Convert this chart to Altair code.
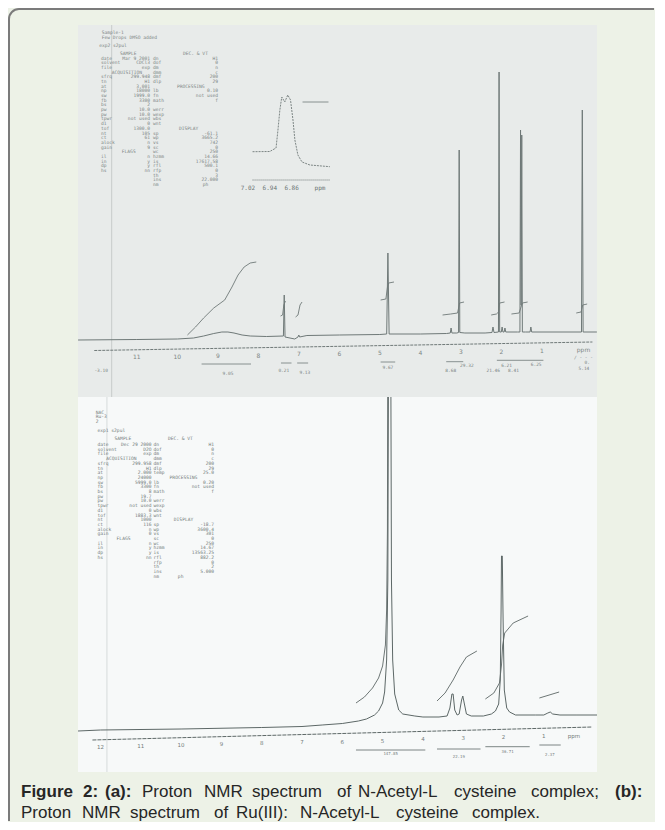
import altair as alt
import pandas as pd

# ---------------- colours / fonts ----------------
BG = "#EDF2E7"
PAPER_A = "#E8EBEA"
PAPER_B = "#F7F9F9"
INK_A = "#6F7978"
INK_B = "#5D6867"
TXT_A = "#7D8685"
TXT_B = "#737C7B"
CAP = "#262626"
FRAME = "#7B7B7B"
MONO = "DejaVu Sans Mono"
SANS = "Liberation Sans"

# ================= (a) N-Acetyl-L cysteine =================
a_ppm = [12.45, 11.0, 10.0, 9.6, 9.35, 9.1, 8.9, 8.75, 8.6, 8.4, 8.2, 7.8,
         7.38, 7.36, 7.34, 7.1, 7.02, 7.0, 6.98, 6.8, 6.0, 5.0,
         4.83, 4.80, 4.77, 4.6, 4.0, 3.35, 3.26, 3.24, 3.22, 3.1,
         3.055, 3.04, 3.025, 2.9, 2.4, 2.23, 2.205, 2.18,
         2.07, 2.055, 2.04, 2.00, 1.98, 1.96, 1.93, 1.91, 1.89,
         1.6, 1.54, 1.525, 1.51, 1.495, 1.48, 1.4, 1.29, 1.27, 1.25,
         0.6, 0.02, 0.0, -0.02, -0.36]
a_int = [5, 5.5, 6, 7, 9, 11.5, 13, 13, 12, 10, 9, 8.5,
         9, 50, 8, 6, 8, 10, 8, 9.5, 10, 10.5,
         11, 92, 11, 11, 11, 11.5, 12, 17, 12, 12,
         12.5, 195, 12.5, 12, 12, 12.5, 18, 12.5,
         13, 273, 13, 13, 18, 13, 13, 17, 13,
         13, 13, 215, 40, 210, 13, 13, 13, 18, 13,
         13, 13, 235, 13, 13]

a_integ_seg = [0] * 10 + [1] * 4 + [2] * 4 + [3] * 5 + [4] * 5 + [5] * 5 + [6] * 5 + [7] * 4
a_integ_ppm = [9.75, 9.55, 9.35, 9.1, 8.83, 8.65, 8.5, 8.35, 8.2, 8.05,
               7.45, 7.40, 7.37, 7.33,
               7.08, 7.02, 6.97, 6.92,
               4.98, 4.85, 4.81, 4.78, 4.65,
               3.45, 3.25, 3.08, 3.03, 2.92,
               2.25, 2.12, 2.07, 2.04, 1.92,
               1.75, 1.56, 1.52, 1.48, 1.35,
               0.15, 0.03, -0.01, -0.12]
a_integ_v = [10, 18, 27, 37, 45, 58, 70, 78, 82, 83,
             29, 30, 40, 44,
             28, 30, 40, 43,
             45, 46, 58, 62, 63,
             30, 31, 32, 42, 43,
             30, 31, 33, 42, 43,
             31, 32, 37, 42, 43,
             32, 33, 40, 41]

a_axis_ppm = [12.05, -0.25]
a_axis_v = [-5.5, 3]
a_tick_ppm = [11, 10, 9, 8, 7, 6, 5, 4, 3, 2, 1, -0.03]
a_tick_lbl = ["11", "10", "9", "8", "7", "6", "5", "4", "3", "2", "1", "ppm"]
a_tick_v = [-12.3, -12.3, -11, -10.7, -9.3, -9, -8.3, -7.7, -7.3, -6.7, -6, -5]

a_bar_from = [9.40, 7.44, 7.04, 4.98, 3.36, 2.11]
a_bar_to = [8.18, 7.18, 6.77, 4.62, 2.94, 0.96]
a_bar_v = [-19, -18, -18, -17, -16.7, -15.3]
a_ilbl = ["-3.10", "9.05", "0.21", "9.13", "9.67", "29.32", "8.68", "6.21", "6.25", "21.46", "8.41", "0.", "5.14", "/ - - -"]
a_ilbl_ppm = [11.88, 8.75, 7.37, 6.85, 4.80, 2.85, 3.25, 1.87, 1.14, 2.20, 1.70, -0.12, -0.04, -0.03]
a_ilbl_v = [-26, -29, -25.7, -28, -22.7, -21, -25.7, -20.7, -20, -25.7, -26, -18.3, -24.3, -13.3]

# inset (expanded 7.02-6.86 ppm)
in_ppm = [7.003, 6.94, 6.917, 6.91, 6.903, 6.896, 6.885, 6.874, 6.864, 6.855, 6.848, 6.837, 6.822, 6.793, 6.72]
in_v = [28.3, 28.5, 32, 50, 70, 83, 78, 85, 80, 60, 40, 25, 18, 15, 13.3]
in_integ_ppm = [6.82, 6.725]
in_integ_v = [78, 78]
in_axis_ppm = [7.003, 6.72]
in_lbl = ["7.02", "6.94", "6.86", "ppm"]
in_lbl_ppm = [7.02, 6.94, 6.86, 6.756]

# acquisition parameter printout (a)
a_head = ["Sample-1", "Few Drops DMSO added", "exp2  s2pul", "SAMPLE", "DEC. & VT",
          "ACQUISITION", "FLAGS", "PROCESSING", "DISPLAY", "ph"]
a_head_ppm = [11.866, 11.866, 11.93, 11.415, 9.859, 11.62, 11.37, 10.01, 9.96, 9.37]
a_head_v = [315, 310.4, 302, 294.5, 294.5, 275.4, 195.7, 261.4, 219.2, 162.9]
a_col1_names = ["date", "solvent", "file", "", "sfrq", "tn", "at", "np", "sw", "fb", "bs", "pw", "pw",
                "tpwr", "d1", "tof", "nt", "ct", "alock", "gain", "", "il", "in", "dp", "hs"]
a_col1_vals = ["Mar  9 2001", "CDCl3", "exp", "", "299.948", "H1", "3.001", "18000", "1999.0", "3300",
               "2", "10.0", "10.0", "not used", "0", "1300.0", "105", "61", "n", "9", "", "n", "y", "y", "nn"]
a_col2_names = ["dn", "dof", "dm", "dmm", "dmf", "dlp", "", "lb", "fn", "math", "", "werr", "wexp", "wbs",
                "wnt", "", "sp", "wp", "vs", "sc", "wc", "hzmm", "is", "rfl", "rfp", "th", "ins", "nm"]
a_col2_vals = ["H1", "0", "n", "c", "200", "29", "", "0.10", "not used", "f", "", "", "", "", "", "",
               "-61.1", "3665.2", "742", "0", "250", "14.66", "17617.58", "500.1", "0", "3", "22.000", ""]

# ================= (b) Ru(III) complex =================
b_ppm = [12.56, 12.0, 10.0, 8.0, 7.0, 6.5, 6.0, 5.6, 5.4, 5.2, 5.1, 5.0, 4.95, 4.90, 4.87, 4.85, 4.80,
         4.78, 4.75, 4.70, 4.60, 4.50, 4.2, 4.0, 3.6, 3.40, 3.33, 3.28, 3.25, 3.21, 3.15, 3.10, 3.04,
         3.01, 2.98, 2.92, 2.8, 2.5, 2.3, 2.2, 2.12, 2.08, 2.06, 2.05, 2.03, 2.01, 1.98, 1.92, 1.85,
         1.7, 1.2, 1.0, 0.90, 0.84, 0.78, 0.6, 0.2, -0.32]
b_int = [-1, 0, 1, 2.5, 3.5, 5, 6.5, 9, 11, 15, 19, 27, 38, 70, 150, 420, 420,
         150, 70, 36, 20, 16, 14, 13, 13, 14, 22, 36, 36, 20, 15, 16, 30,
         34, 28, 16, 14, 14, 16, 19, 26, 50, 120, 174, 174, 110, 40, 22, 18,
         15, 15, 15, 17, 18, 16, 15, 15, 15]

b_integ_seg = [0] * 9 + [1] * 6 + [2] * 8 + [3] * 2
b_integ_ppm = [5.66, 5.45, 5.25, 5.10, 5.0, 4.93, 4.90, 4.88, 4.87,
               3.65, 3.45, 3.25, 3.08, 2.92, 2.66,
               2.45, 2.24, 2.10, 2.05, 2.02, 1.97, 1.76, 1.39,
               1.11, 0.62]
b_integ_v = [27, 33, 42, 52, 64, 85, 120, 200, 420,
             29, 37, 50, 63, 73, 79,
             31, 37, 47, 65, 85, 97, 107, 114,
             32, 38]

b_axis_ppm = [12.2, -0.2]
b_axis_v = [-10, 3]
b_tick_ppm = [12, 11, 10, 9, 8, 7, 6, 5, 4, 3, 2, 1, 0.25]
b_tick_lbl = ["12", "11", "10", "9", "8", "7", "6", "5", "4", "3", "2", "1", "ppm"]
b_tick_v = [-16.7, -15.7, -15, -14, -13.3, -12.3, -11.7, -10.7, -9.3, -8.3, -7.3, -6, -6]

b_bar_from = [5.66, 3.65, 2.45, 1.11]
b_bar_to = [3.94, 2.57, 1.35, 0.58]
b_bar_v = [-20, -19, -16.7, -15]
b_ilbl = ["147.85", "22.19", "36.71", "2.37"]
b_ilbl_ppm = [4.80, 3.11, 1.90, 0.85]
b_ilbl_v = [-24, -26.7, -21.7, -25]

b_head = ["NAC", "Ru-3", "2", "exp1  s2pul", "SAMPLE", "DEC. & VT",
          "ACQUISITION", "FLAGS", "PROCESSING", "DISPLAY", "ph"]
b_head_ppm = [12.119, 12.119, 12.119, 12.074, 11.65, 10.325, 11.86, 11.60, 10.285, 10.18, 10.08]
b_head_v = [320.5, 315.8, 311.1, 302.5, 294, 294, 273.9, 194.0, 255.1, 212.8, 156.4]
b_col1_names = ["date", "solvent", "file", "", "sfrq", "tn", "at", "np", "sw", "fb", "bs", "pw", "pw",
                "tpwr", "d1", "tof", "nt", "ct", "alock", "gain", "", "il", "in", "dp", "hs"]
b_col1_vals = ["Dec 29 2000", "D2O", "exp", "", "299.958", "H1", "2.000", "24000", "5999.0", "3300", "8",
               "19.7", "10.0", "not used", "0", "1883.3", "1000", "116", "n", "0", "", "n", "y", "y", "nn"]
b_col2_names = ["dn", "dof", "dm", "dmm", "dmf", "dlp", "temp", "", "lb", "fn", "math", "", "werr", "wexp",
                "wbs", "wnt", "", "sp", "wp", "vs", "sc", "wc", "hzmm", "is", "rfl", "rfp", "th", "ins", "nm"]
b_col2_vals = ["H1", "0", "n", "c", "200", "29", "25.0", "", "0.20", "not used", "f", "", "", "", "", "",
               "", "-18.7", "3600.4", "301", "0", "250", "14.67", "13563.25", "882.2", "0", "2", "5.000", ""]

# ================= caption =================
cap1_words = ["Figure", "2:", "(a):", "Proton", "NMR", "spectrum", "of", "N-Acetyl-L", "cysteine", "complex;", "(b):"]
cap1_bold = [1, 1, 1, 0, 0, 0, 0, 0, 0, 0, 1]
cap1_x = [21, 83, 105, 142, 204, 252, 337, 358, 454, 531, 615]
cap2_words = ["Proton", "NMR", "spectrum", "of", "Ru(III):", "N-Acetyl-L", "cysteine", "complex."]
cap2_x = [21, 82, 130, 214, 236, 300, 396, 472]
cap_y = [797, 818]

# ---------------- scales ----------------
xA = alt.Scale(domain=[12.452, -0.363])
yA = alt.Scale(domain=[-52, 320])
xIn = alt.Scale(domain=[7.642, 5.742])
yIn = alt.Scale(domain=[-217, 155])
xB = alt.Scale(domain=[12.558, -0.320])
yB = alt.Scale(domain=[-42, 333])
xCap = alt.Scale(domain=[78, 597])
yCap = alt.Scale(domain=[772, 397])

PSIZE = 4.6  # printout font size


def X(s, f="x"):
    return alt.X(f + ":Q", scale=s, axis=None)


def Y(s, f="y"):
    return alt.Y(f + ":Q", scale=s, axis=None)


def line(xs, ys, sx, sy, color, width=1.0, dash=None, seg=None, clip=True):
    d = pd.DataFrame({"x": xs, "y": ys, "i": list(range(len(xs)))})
    kw = dict(color=color, strokeWidth=width, clip=clip)
    if dash:
        kw["strokeDash"] = dash
    enc = dict(x=X(sx), y=Y(sy), order="i:Q")
    if seg is not None:
        d["seg"] = seg
        enc["detail"] = "seg:N"
    return alt.Chart(d).mark_line(**kw).encode(**enc)


def texts(labels, xs, ys, sx, sy, color, size, font=MONO, align="center", baseline="middle"):
    d = pd.DataFrame({"x": xs, "y": ys, "t": labels})
    return alt.Chart(d).mark_text(color=color, fontSize=size, font=font, align=align,
                                  baseline=baseline).encode(x=X(sx), y=Y(sy), text="t:N")


def bars(x1, x2, ys, sx, sy, color):
    d = pd.DataFrame({"x": x1, "x2": x2, "y": ys})
    return alt.Chart(d).mark_rule(color=color, strokeWidth=0.8).encode(x=X(sx), x2="x2:Q", y=Y(sy))


def block(rows, x, top, sx, sy, color, align, lh):
    keep = [(r, top - k * lh) for k, r in enumerate(rows) if r]
    return texts([r for r, _ in keep], [x] * len(keep), [v for _, v in keep], sx, sy, color, PSIZE,
                 align=align, baseline="top")


one = pd.DataFrame({"k": [0]})

# ---------------- panel (a) ----------------
frame = [
    alt.Chart(one).mark_rule(color=FRAME, strokeWidth=2).encode(
        x=alt.value(-69), y=alt.value(-6), y2=alt.value(796)),
    alt.Chart(one).mark_rule(color=FRAME, strokeWidth=2).encode(
        x=alt.value(-59), x2=alt.value(576), y=alt.value(-16)),
    alt.Chart(one).mark_arc(color=FRAME, radius=11, radius2=9, theta=4.7124, theta2=6.2832).encode(
        x=alt.value(-59), y=alt.value(-6)),
]

scanA = alt.Chart(pd.DataFrame({"x": [11.62]})).mark_rule(color="#C7CCCB", strokeWidth=1).encode(x=X(xA))

mainA = alt.layer(
    scanA,
    line(a_ppm, a_int, xA, yA, INK_A),
    line(a_integ_ppm, a_integ_v, xA, yA, INK_A, 0.9, seg=a_integ_seg),
    line(a_axis_ppm, a_axis_v, xA, yA, INK_A, 1, dash=[3, 1]),
    texts(a_tick_lbl, a_tick_ppm, a_tick_v, xA, yA, TXT_A, 6, font="DejaVu Sans"),
    bars(a_bar_from, a_bar_to, a_bar_v, xA, yA, INK_A),
    texts(a_ilbl, a_ilbl_ppm, a_ilbl_v, xA, yA, TXT_A, 4.5),
    texts(a_head, a_head_ppm, a_head_v, xA, yA, TXT_A, PSIZE, align="left", baseline="top"),
    block(a_col1_names, 11.884, 289.5, xA, yA, TXT_A, "left", 4.69),
    block(a_col1_vals, 10.674, 289.5, xA, yA, TXT_A, "right", 4.69),
    block(a_col2_names, 10.600, 289.5, xA, yA, TXT_A, "left", 4.69),
    block(a_col2_vals, 8.995, 289.5, xA, yA, TXT_A, "right", 4.69),
    *frame,
)

insetA = alt.layer(
    line(in_ppm, in_v, xIn, yIn, INK_A, 0.9, dash=[2, 1]),
    line(in_integ_ppm, in_integ_v, xIn, yIn, INK_A, 0.8),
    line(in_axis_ppm, [0, 0], xIn, yIn, INK_A, 1, dash=[1, 1]),
    texts(in_lbl, in_lbl_ppm, [-7.7] * 4, xIn, yIn, "#6A7372", 6),
)

panelA = alt.layer(mainA, insetA).resolve_scale(x="independent", y="independent").properties(
    width=519, height=372, view=alt.ViewBackground(fill=PAPER_A, strokeWidth=0))

# ---------------- panel (b) ----------------
scanB = alt.Chart(pd.DataFrame({"x": [11.84]})).mark_rule(color="#D6DBDB", strokeWidth=1).encode(x=X(xB))

mainB = alt.layer(
    scanB,
    line(b_ppm, b_int, xB, yB, INK_B),
    line(b_integ_ppm, b_integ_v, xB, yB, INK_B, 0.9, seg=b_integ_seg),
    line(b_axis_ppm, b_axis_v, xB, yB, INK_B, 1, dash=[4, 1]),
    texts(b_tick_lbl, b_tick_ppm, b_tick_v, xB, yB, TXT_B, 5.5, font="DejaVu Sans"),
    bars(b_bar_from, b_bar_to, b_bar_v, xB, yB, INK_B),
    texts(b_ilbl, b_ilbl_ppm, b_ilbl_v, xB, yB, TXT_B, 4),
    texts(b_head, b_head_ppm, b_head_v, xB, yB, TXT_B, PSIZE, align="left", baseline="top"),
    block(b_col1_names, 12.074, 288, xB, yB, TXT_B, "left", 4.70),
    block(b_col1_vals, 10.734, 288, xB, yB, TXT_B, "right", 4.70),
    block(b_col2_names, 10.685, 288, xB, yB, TXT_B, "left", 4.70),
    block(b_col2_vals, 9.184, 288, xB, yB, TXT_B, "right", 4.70),
)

cap_bold = [w for w, b in zip(cap1_words, cap1_bold) if b]
cap_bold_x = [x for x, b in zip(cap1_x, cap1_bold) if b]
cap_reg = [w for w, b in zip(cap1_words, cap1_bold) if not b] + cap2_words
cap_reg_x = [x for x, b in zip(cap1_x, cap1_bold) if not b] + cap2_x
cap_reg_y = [cap_y[0]] * (len(cap1_words) - sum(cap1_bold)) + [cap_y[1]] * len(cap2_words)

captionB = alt.layer(
    alt.Chart(pd.DataFrame({"x": cap_bold_x, "y": [cap_y[0]] * len(cap_bold_x), "t": cap_bold}))
    .mark_text(font=SANS, fontSize=17, fontWeight="bold", color=CAP, align="left", baseline="alphabetic")
    .encode(x=X(xCap), y=Y(yCap), text="t:N"),
    alt.Chart(pd.DataFrame({"x": cap_reg_x, "y": cap_reg_y, "t": cap_reg}))
    .mark_text(font=SANS, fontSize=17, color=CAP, align="left", baseline="alphabetic")
    .encode(x=X(xCap), y=Y(yCap), text="t:N"),
)

panelB = alt.layer(mainB, captionB).resolve_scale(x="independent", y="independent").properties(
    width=519, height=375, view=alt.ViewBackground(fill=PAPER_B, strokeWidth=0))

chart = alt.vconcat(panelA, panelB, spacing=0, bounds="flush").properties(
    background=BG, padding=0).configure_view(strokeWidth=0)

chart.save("out.html", embed_options={"renderer": "svg", "actions": False})
